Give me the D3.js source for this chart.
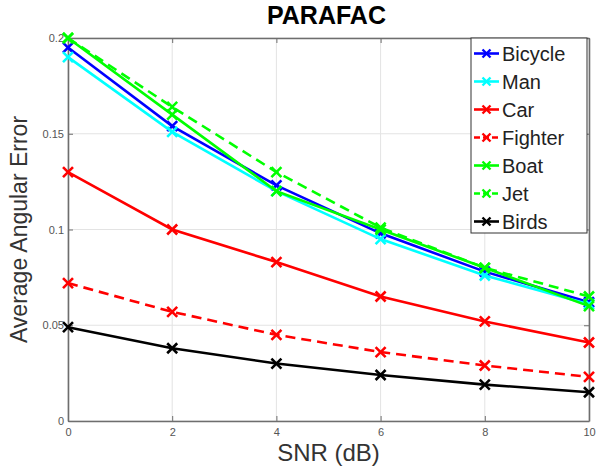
<!DOCTYPE html>
<html>
<head>
<meta charset="utf-8">
<script src="https://cdn.jsdelivr.net/npm/d3@7"></script>
<style>
  body { margin: 0; background: #fff; }
  svg { display: block; font-family: "Liberation Sans", Arial, sans-serif; }
</style>
</head>
<body>
<div id="container"></div>
<script>
// data
const snr = [0, 2, 4, 6, 8, 10];
const bicycle = [0.195, 0.154, 0.123, 0.098, 0.078, 0.062];
const man = [0.190, 0.151, 0.120, 0.095, 0.076, 0.061];
const car = [0.130, 0.100, 0.083, 0.065, 0.052, 0.041];
const fighter = [0.072, 0.057, 0.045, 0.036, 0.029, 0.023];
const boat = [0.200, 0.160, 0.120, 0.100, 0.080, 0.060];
const jet = [0.200, 0.164, 0.130, 0.101, 0.080, 0.065];
const birds = [0.049, 0.038, 0.030, 0.024, 0.019, 0.015];
const xTicks = [0, 2, 4, 6, 8, 10];
const yTicks = [0, 0.05, 0.1, 0.15, 0.2];

const series = [
  { name: "Bicycle", values: bicycle, color: "#0000ff", dashed: false },
  { name: "Man", values: man, color: "#00ffff", dashed: false },
  { name: "Car", values: car, color: "#ff0000", dashed: false },
  { name: "Fighter", values: fighter, color: "#ff0000", dashed: true },
  { name: "Boat", values: boat, color: "#00ff00", dashed: false },
  { name: "Jet", values: jet, color: "#00ff00", dashed: true },
  { name: "Birds", values: birds, color: "#000000", dashed: false },
];

const W = 597, H = 469;
const margin = { top: 38, right: 8, bottom: 48, left: 68 };
const width = W - margin.left - margin.right,
  height = H - margin.top - margin.bottom;

const svg = d3.select("#container").append("svg")
  .attr("width", W).attr("height", H);
const g = svg.append("g")
  .attr("transform", `translate(${margin.left},${margin.top})`);

const x = d3.scaleLinear().domain([0, 10]).range([0, width]);
const y = d3.scaleLinear().domain([0, 0.2]).range([height, 0]);

// grid
g.append("g").selectAll("line").data(xTicks).enter().append("line")
  .attr("x1", d => x(d)).attr("x2", d => x(d))
  .attr("y1", 0).attr("y2", height)
  .attr("stroke", "#e3e3e3").attr("stroke-width", 1);
g.append("g").selectAll("line").data(yTicks).enter().append("line")
  .attr("y1", d => y(d)).attr("y2", d => y(d))
  .attr("x1", 0).attr("x2", width)
  .attr("stroke", "#e3e3e3").attr("stroke-width", 1);

// box + axes
const fmt = d => d === 0 ? "0" : String(+d.toFixed(2));
g.append("g").attr("transform", `translate(0,${height})`)
  .call(d3.axisBottom(x).tickValues(xTicks).tickSizeInner(-5).tickSizeOuter(0).tickPadding(7).tickFormat(d3.format("d")));
g.append("g")
  .call(d3.axisLeft(y).tickValues(yTicks).tickSizeInner(-5).tickSizeOuter(0).tickPadding(4).tickFormat(fmt));
g.append("g")
  .call(d3.axisTop(x).tickValues(xTicks).tickSizeInner(-5).tickSizeOuter(0).tickFormat(""));
g.append("g").attr("transform", `translate(${width},0)`)
  .call(d3.axisRight(y).tickValues(yTicks).tickSizeInner(-5).tickSizeOuter(0).tickFormat(""));
g.selectAll(".domain").attr("stroke", "#6e6e6e").attr("stroke-width", 1.6);
g.selectAll(".tick line").attr("stroke", "#6e6e6e");
g.selectAll(".tick text").attr("fill", "#555").style("font-size", "11px")
  .style("font-family", "'Liberation Sans', Arial, sans-serif");

// lines
const line = d3.line().x((d, i) => x(snr[i])).y(d => y(d));
const ms = 5;
series.forEach(s => {
  g.append("path")
    .datum(s.values)
    .attr("d", line)
    .attr("fill", "none")
    .attr("stroke", s.color)
    .attr("stroke-width", 2.6)
    .attr("stroke-dasharray", s.dashed ? "10,6" : null);
  g.append("g").selectAll("path").data(s.values).enter().append("path")
    .attr("d", (d, i) => {
      const cx = x(snr[i]), cy = y(d);
      return `M${cx - ms},${cy - ms}L${cx + ms},${cy + ms}M${cx - ms},${cy + ms}L${cx + ms},${cy - ms}`;
    })
    .attr("stroke", s.color)
    .attr("stroke-width", 2.6)
    .attr("fill", "none");
});

// title and labels
svg.append("text")
  .attr("x", margin.left + width / 2 - 2).attr("y", 24)
  .attr("text-anchor", "middle")
  .style("font-size", "25px").style("font-weight", "bold")
  .text("PARAFAC");
svg.append("text")
  .attr("x", margin.left + width / 2).attr("y", 461)
  .attr("text-anchor", "middle")
  .attr("fill", "#333")
  .style("font-size", "24px")
  .text("SNR (dB)");
svg.append("text")
  .attr("transform", `translate(27,${margin.top + height / 2}) rotate(-90)`)
  .attr("text-anchor", "middle")
  .attr("fill", "#333")
  .style("font-size", "23px")
  .text("Average Angular Error");

// legend
const lg = svg.append("g").attr("transform", "translate(471,38)");
lg.append("rect")
  .attr("width", 116).attr("height", 195)
  .attr("fill", "#fff").attr("stroke", "#333").attr("stroke-width", 1);
const item = lg.selectAll(".item").data(series).enter().append("g")
  .attr("transform", (d, i) => `translate(0,${15.5 + i * 28})`);
item.append("line")
  .attr("x1", 3).attr("x2", 28).attr("y1", 0).attr("y2", 0)
  .attr("stroke", d => d.color).attr("stroke-width", 2.6)
  .attr("stroke-dasharray", d => d.dashed ? "6,3" : null);
item.append("path")
  .attr("d", "M11.5,-4L19.5,4M11.5,4L19.5,-4")
  .attr("stroke", d => d.color).attr("stroke-width", 2.4);
item.append("text")
  .attr("x", 31).attr("y", 7.5)
  .attr("fill", "#222")
  .style("font-size", "20px")
  .text(d => d.name);
</script>
</body>
</html>
